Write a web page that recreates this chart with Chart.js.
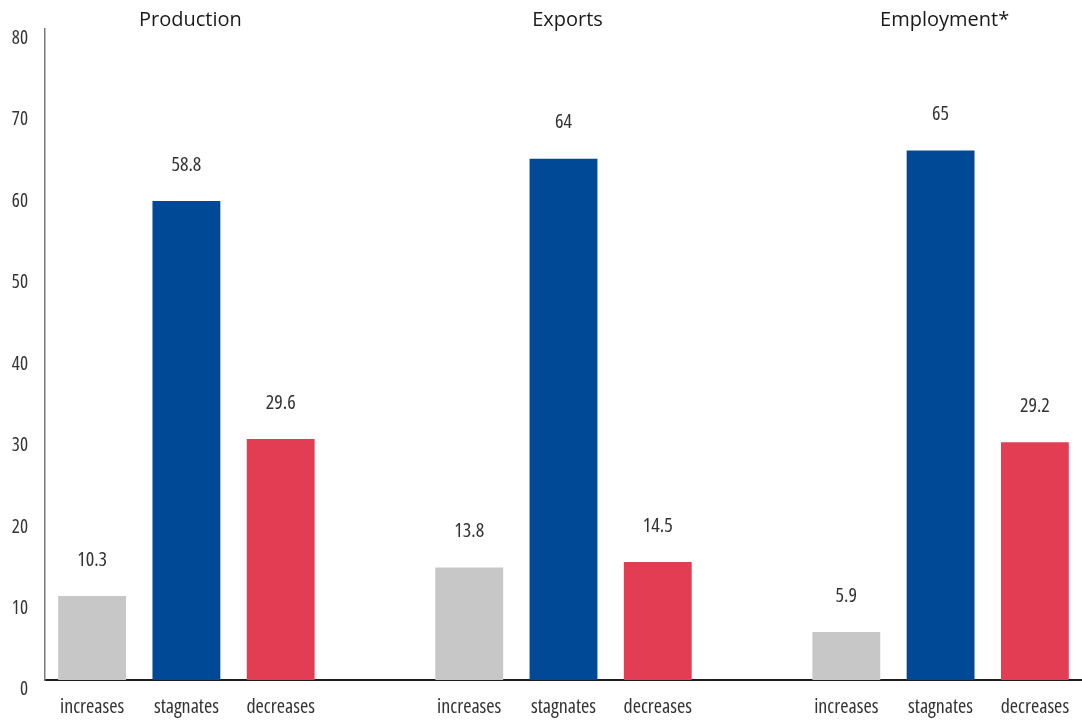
<!DOCTYPE html>
<html>
<head>
<meta charset="utf-8">
<script src="https://cdn.jsdelivr.net/npm/chart.js@4.4.1/dist/chart.umd.min.js"></script>
<style>
  html, body { margin: 0; padding: 0; background: #ffffff; }
  #wrap { width: 1082px; height: 722px; }
</style>
</head>
<body>
<div id="wrap"><canvas id="chart" width="1082" height="722"></canvas></div>
<script>
// Survey outcome shares (%) for each indicator
const groupTitles = ['Production', 'Exports', 'Employment*'];
const outcomes = ['increases', 'stagnates', 'decreases'];
const production = [10.3, 58.8, 29.6];
const exportsShare = [13.8, 64, 14.5];
const employment = [5.9, 65, 29.2];
const outcomeColors = ['#c6c7c6', '#004996', '#e33d53'];
const yTicks = [0, 10, 20, 30, 40, 50, 60, 70, 80];

const narrowFamily = "'Open Sans', 'DejaVu Sans Condensed', sans-serif";
// the font-stretch keyword rides in the weight slot of the canvas font string
const xTickFont = { family: narrowFamily, size: 20, weight: 'condensed' };
const yTickFont = { family: narrowFamily, size: 19, weight: 'condensed' };
const titleFont = "'Open Sans', 'Noto Sans', sans-serif";

// Flatten the groups into one category axis, with an empty slot between groups
const groupSeries = [production, exportsShare, employment];
const labels = [];
const values = [];
const colors = [];
const groupCenterIndex = [];
groupSeries.forEach((series, g) => {
  if (g > 0) { labels.push(''); values.push(null); colors.push('rgba(0,0,0,0)'); }
  series.forEach((v, i) => {
    if (i === 1) groupCenterIndex.push(labels.length);
    labels.push(outcomes[i]);
    values.push(v);
    colors.push(outcomeColors[i]);
  });
});

const annotate = {
  id: 'annotate',
  afterDatasetsDraw(chart) {
    const ctx = chart.ctx;
    const meta = chart.getDatasetMeta(0);
    ctx.save();
    ctx.textAlign = 'center';
    ctx.textBaseline = 'middle';
    ctx.fillStyle = '#333333';
    ctx.font = "condensed 20px " + narrowFamily;
    meta.data.forEach((bar, i) => {
      const v = values[i];
      if (v === null) return;
      ctx.fillText(String(v), bar.x, bar.y - 36);
    });
    ctx.fillStyle = '#1a1a1a';
    ctx.font = "20px " + titleFont;
    const xScale = chart.scales.x;
    groupCenterIndex.forEach((idx, g) => {
      ctx.fillText(groupTitles[g], xScale.getPixelForValue(idx) + 4, 20);
    });
    ctx.restore();
  }
};

new Chart(document.getElementById('chart'), {
  type: 'bar',
  data: {
    labels: labels,
    datasets: [{
      data: values,
      backgroundColor: colors,
      borderWidth: 0,
      barPercentage: 0.72,
      categoryPercentage: 1.0
    }]
  },
  options: {
    responsive: false,
    animation: false,
    layout: { padding: { top: 28, right: 0, bottom: 0, left: 0 } },
    plugins: { legend: { display: false }, tooltip: { enabled: false } },
    scales: {
      x: {
        grid: { display: false, drawTicks: false },
        border: { display: true, color: '#1e1e1e', width: 2 },
        ticks: {
          color: '#333333',
          font: xTickFont,
          padding: 15,
          maxRotation: 0,
          autoSkip: false
        },
        afterFit(axis) {
          axis.height = 42;
          axis.paddingLeft = 0;
          axis.paddingRight = 0;
        }
      },
      y: {
        min: 0,
        max: 80,
        afterBuildTicks(axis) { axis.ticks = yTicks.map(v => ({ value: v })); },
        grid: { display: false, drawTicks: false },
        border: { display: true, color: '#7a7a7a', width: 1.5 },
        ticks: {
          color: '#333333',
          font: yTickFont,
          padding: 17,
          labelOffset: 10
        },
        afterFit(axis) { axis.width = 45; }
      }
    }
  },
  plugins: [annotate]
});
</script>
</body>
</html>
